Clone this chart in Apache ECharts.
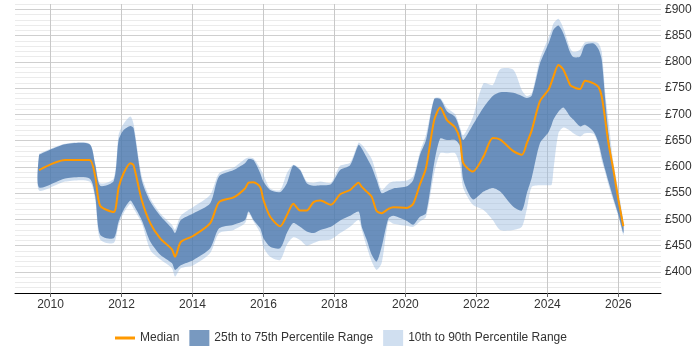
<!DOCTYPE html>
<html>
<head>
<meta charset="utf-8">
<script src="https://cdn.jsdelivr.net/npm/echarts@6/dist/echarts.min.js"></script>
<style>
html, body { margin: 0; padding: 0; background: #fff; }
#chart { width: 700px; height: 350px; }
</style>
</head>
<body>
<div id="chart"></div>
<script>
// sample dates (decimal years)
var years = [2009.68, 2010.41, 2011.10, 2011.26, 2011.40, 2011.78, 2011.92, 2012.06, 2012.25, 2012.34,
  2012.57, 2012.81, 2013.09, 2013.42, 2013.51, 2013.67, 2014.03, 2014.50, 2014.75, 2015.16,
  2015.48, 2015.58, 2015.72, 2015.91, 2016.00, 2016.19, 2016.47, 2016.66, 2016.84, 2017.03,
  2017.22, 2017.41, 2017.60, 2017.90, 2018.16, 2018.44, 2018.68, 2018.77, 2018.91, 2019.05,
  2019.19, 2019.33, 2019.52, 2019.66, 2020.04, 2020.22, 2020.41, 2020.58, 2020.81, 2020.98,
  2021.17, 2021.40, 2021.54, 2021.63, 2021.90, 2022.20, 2022.46, 2022.67, 2023.04, 2023.28,
  2023.42, 2023.56, 2023.79, 2024.03, 2024.12, 2024.17, 2024.31, 2024.45, 2024.64, 2024.73,
  2024.92, 2025.06, 2025.30, 2025.44, 2025.53, 2025.63, 2025.72, 2025.86, 2026.00, 2026.14];

var median = [594, 613, 613, 582, 526, 514, 561, 588, 607, 603,
  537, 493, 464, 443, 429, 457, 469, 493, 533, 542,
  559, 570, 571, 561, 537, 505, 487, 508, 530, 517,
  517, 533, 536, 528, 548, 556, 570, 562, 553, 543,
  516, 512, 520, 523, 522, 530, 567, 598, 689, 713,
  689, 675, 651, 607, 591, 620, 655, 652, 630, 623,
  645, 670, 725, 747, 762, 772, 794, 785, 756, 752,
  748, 764, 759, 752, 734, 689, 645, 594, 537, 487];

var p25 = [561, 578, 578, 544, 471, 464, 496, 518, 536, 528,
  499, 458, 433, 417, 404, 413, 423, 445, 483, 490,
  499, 515, 499, 483, 464, 448, 445, 474, 493, 486,
  477, 474, 480, 486, 498, 507, 515, 486, 461, 433,
  420, 448, 502, 507, 497, 490, 505, 512, 607, 654,
  651, 651, 639, 575, 538, 553, 560, 553, 524, 517,
  550, 580, 645, 666, 680, 690, 705, 713, 696, 690,
  677, 680, 667, 646, 620, 594, 572, 540, 509, 474];

var p75 = [623, 643, 643, 604, 564, 573, 651, 670, 678, 674,
  575, 534, 507, 483, 474, 499, 512, 531, 582, 594,
  607, 615, 613, 588, 572, 556, 552, 569, 603, 594,
  569, 564, 565, 567, 594, 603, 642, 635, 618, 600,
  575, 550, 555, 559, 563, 575, 623, 651, 729, 729,
  706, 695, 670, 651, 680, 713, 735, 742, 741, 735,
  731, 736, 797, 835, 852, 861, 869, 854, 818, 809,
  810, 832, 835, 824, 804, 727, 664, 594, 544, 492];

var p10 = [555, 572, 572, 537, 462, 455, 490, 512, 530, 521,
  493, 442, 424, 407, 391, 407, 413, 436, 474, 480,
  493, 512, 496, 474, 447, 429, 423, 452, 466, 461,
  450, 455, 460, 462, 474, 486, 499, 480, 448, 420,
  404, 417, 496, 492, 488, 486, 496, 505, 588, 626,
  626, 626, 601, 560, 528, 518, 499, 480, 480, 486,
  520, 562, 565, 565, 566, 594, 664, 675, 669, 664,
  658, 664, 663, 640, 612, 589, 566, 535, 505, 470];

var p90 = [625, 644, 644, 607, 569, 578, 661, 682, 696, 682,
  582, 540, 512, 490, 481, 507, 524, 547, 588, 599,
  615, 618, 616, 597, 585, 559, 556, 588, 604, 596,
  572, 570, 572, 570, 602, 608, 646, 642, 630, 615,
  585, 556, 568, 572, 574, 582, 629, 661, 730, 731,
  712, 700, 675, 660, 695, 759, 756, 786, 785, 746,
  735, 740, 806, 846, 862, 873, 882, 864, 826, 819,
  823, 837, 838, 835, 819, 740, 689, 607, 556, 495];

var yearTicks = [2010, 2012, 2014, 2016, 2018, 2020, 2022, 2024, 2026];

var FONT = 'Liberation Sans, Arial, sans-serif';
var LIGHT = 'rgba(150,185,222,0.45)';
var DARK = 'rgba(62,110,165,0.7)';
var SMOOTH = 0.25;

function bandSeries(name, lo, hi, color) {
  return {
    name: name,
    type: 'custom',
    silent: true,
    z: 2,
    itemStyle: { color: color },
    encode: { x: 0, y: [1, 2] },
    data: years.map(function (y, i) { return [y, lo[i], hi[i]]; }),
    renderItem: function (params, api) {
      if (params.dataIndex !== 0) return;
      // upper edge left->right, lower edge right->left
      var top = [], bottom = [];
      for (var i = 0; i < years.length; i++) top.push(api.coord([years[i], hi[i]]));
      for (var j = years.length - 1; j >= 0; j--) bottom.push(api.coord([years[j], lo[j]]));
      return {
        type: 'polyline',
        shape: { points: top.concat(bottom, [top[0]]), smooth: SMOOTH },
        style: { fill: color, stroke: null }
      };
    }
  };
}

var chart = echarts.init(document.getElementById('chart'));

var option = {
  animation: false,
  textStyle: { fontFamily: FONT },
  grid: { left: 15, right: 39, top: 4, bottom: 57 },
  legend: {
    left: 110,
    top: 325,
    itemWidth: 20,
    itemHeight: 16,
    itemGap: 10,
    textStyle: { fontSize: 12, color: '#333', fontFamily: FONT },
    data: [
      { name: 'Median', icon: 'path://M0,0L20,0L20,3L0,3Z' },
      { name: '25th to 75th Percentile Range', icon: 'rect' },
      { name: '10th to 90th Percentile Range', icon: 'rect' }
    ]
  },
  xAxis: {
    type: 'value',
    min: 2009,
    max: 2027.2,
    interval: 1,
    axisLine: { show: true, lineStyle: { color: '#000', width: 1 } },
    axisTick: { show: true, customValues: yearTicks, length: 4, lineStyle: { color: '#666' } },
    axisLabel: {
      customValues: yearTicks,
      margin: 6,
      fontSize: 12,
      color: '#333',
      fontFamily: FONT,
      formatter: function (v) { return String(v); }
    },
    splitLine: { show: false }
  },
  yAxis: {
    type: 'value',
    position: 'right',
    min: 360,
    max: 910,
    interval: 10,
    axisLine: { show: false },
    axisTick: { show: false },
    axisLabel: {
      margin: 4,
      fontSize: 12,
      color: '#333',
      fontFamily: FONT,
      formatter: function (v) { return v % 50 === 0 ? '£' + v : ''; }
    },
    splitLine: {
      show: true,
      lineStyle: { color: ['#ebebeb', '#ebebeb', '#ebebeb', '#ebebeb', '#cfcfcf'], width: 1 }
    }
  },
  series: [
    {
      name: 'yeargrid',
      type: 'line',
      data: [],
      z: 1,
      silent: true,
      markLine: {
        silent: true,
        z: 1,
        symbol: ['none', 'none'],
        label: { show: false },
        lineStyle: { color: '#c8c8c8', width: 1, type: 'solid' },
        data: yearTicks.map(function (t) { return { xAxis: t }; })
      }
    },
    bandSeries('10th to 90th Percentile Range', p10, p90, LIGHT),
    bandSeries('25th to 75th Percentile Range', p25, p75, DARK),
    {
      name: 'Median',
      type: 'line',
      z: 3,
      symbol: 'none',
      showSymbol: false,
      smooth: SMOOTH,
      color: '#ff9900',
      lineStyle: { color: '#ff9900', width: 2 },
      data: years.map(function (y, i) { return [y, median[i]]; })
    }
  ]
};

chart.setOption(option);
</script>
</body>
</html>
